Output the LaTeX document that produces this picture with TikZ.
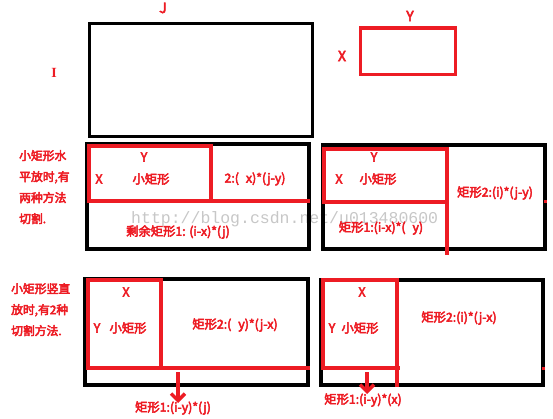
\documentclass[tikz,border=0pt]{standalone}
\usepackage{fontspec}
\newfontfamily\cjkb[FakeBold=4]{Noto Sans CJK SC}
\newfontfamily\serb{Liberation Serif}
\newfontfamily\wmfont{Liberation Mono}
\usetikzlibrary{arrows.meta}
\definecolor{pred}{RGB}{237,28,36}
\tikzset{
  blk/.style={draw=black, line width=4pt},
  redr/.style={draw=pred, line width=4pt},
  lbl/.style={text=pred, font=\cjkb\fontsize{12.3}{14}\selectfont, inner sep=0pt},
  big/.style={text=pred, font=\cjkb\fontsize{14}{16}\selectfont, inner sep=0pt},
  side/.style={text=pred, font=\cjkb\fontsize{11.8}{21}\selectfont, inner sep=0pt, align=left, anchor=north west},
  wm/.style={text=black!22, font=\wmfont\fontsize{16.5}{18}\selectfont, inner sep=0pt},
  downarr/.style={draw=pred, line width=3.5pt, -{Straight Barb[length=7pt,width=14pt]}}
}
\begin{document}
\begin{tikzpicture}[x=1pt,y=-1pt]
\useasboundingbox (0,0) rectangle (553,419);
% top row
\draw[blk, line width=3.2pt] (89.5,23.5) rectangle (312.5,136.5);
\draw[redr, line width=3.2pt] (360.5,28) rectangle (455.5,74.5);
\node[big] (J) at (163,8) {J};
\node[big, font=\serb\bfseries\fontsize{14}{16}\selectfont] (I) at (54,73) {I};
\node[big] (Y0) at (410,16) {Y};
\node[big] (X0) at (342,56) {X};
% watermark
\node[wm, anchor=west] (wmk) at (131,219) {http://blog.csdn.net/u013480600};
% panel 1
\draw[blk] (87,144) rectangle (309,249);
\draw[redr] (89,146) rectangle (211,201);
\draw[redr] (211,201) -- (310,201);
\node[side] (s1) at (19,150) {小矩形水\\平放时,有\\两种方法\\切割.};
\node[lbl] (p1y) at (144,157) {Y};
\node[lbl] (p1x) at (99,179) {X};
\node[lbl] (p1s) at (151,179) {小矩形};
\node[lbl] (p1b) at (255,179) {2:(\hspace{7pt}x)*(j-y)};
\node[lbl] (p1a) at (178,232) {剩余矩形1: (i-x)*(j)};
% panel 2
\draw[blk] (323,145) rectangle (545,249);
\draw[redr] (324,149) rectangle (447,202);
\draw[redr] (447,202) -- (447,255);
\fill[pred] (543.5,200.5) rectangle (546.5,203.5);
\node[lbl] (p2y) at (374,157) {Y};
\node[lbl] (p2x) at (339,179) {X};
\node[lbl] (p2s) at (378,179) {小矩形};
\node[lbl] (p2b) at (495,193) {矩形2:(i)*(j-y)};
\node[lbl] (p2a) at (381,228) {矩形1:(i-x)*(\hspace{7pt}y)};
% panel 3
\draw[blk] (85,279) rectangle (308,385);
\draw[redr] (88,280) rectangle (161,368);
\draw[redr] (161,368) -- (310,368);
\node[side] (s3) at (11,283) {小矩形竖直\\放时,有2种\\切割方法.};
\node[lbl] (p3x) at (126,292) {X};
\node[lbl] (p3y) at (97,328) {Y};
\node[lbl] (p3s) at (128,328) {小矩形};
\node[lbl] (p3b) at (235,325) {矩形2:(\hspace{7pt}y)*(j-x)};
\coordinate (a3s) at (178,372);
\coordinate (a3e) at (178,403);
\draw[downarr] (a3s) -- (a3e);
\node[lbl] (p3a) at (173,408) {矩形1:(i-y)*(j)};
% panel 4
\draw[blk] (321,280) rectangle (543,385);
\draw[redr] (323,280) rectangle (397,368);
\draw[redr] (397,368) -- (400,368);
\draw[redr] (397,368) -- (397,387);
\fill[pred] (541.5,366.5) rectangle (544.5,369.5);
\node[lbl] (p4x) at (362,292) {X};
\node[lbl] (p4y) at (332,328) {Y};
\node[lbl] (p4s) at (360,328) {小矩形};
\node[lbl] (p4b) at (459,318) {矩形2:(i)*(j-x)};
\coordinate (a4s) at (367,372);
\coordinate (a4e) at (367,394);
\draw[downarr] (a4s) -- (a4e);
\node[lbl] (p4a) at (363,400) {矩形1:(i-y)*(x)};
\end{tikzpicture}
\end{document}
